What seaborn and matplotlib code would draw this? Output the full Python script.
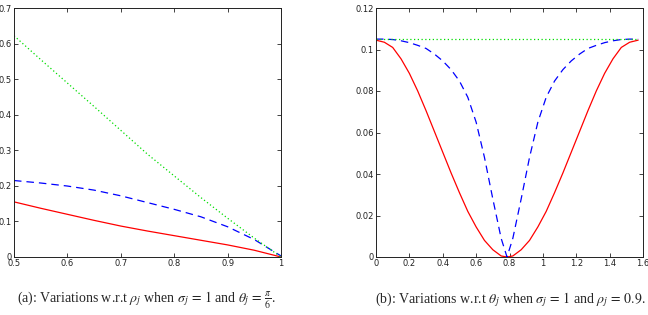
import numpy as np
import pandas as pd
import matplotlib
matplotlib.use("Agg")
import matplotlib.pyplot as plt
import seaborn as sns

# Panel (a): variations w.r.t rho
rho = [0.5, 0.55, 0.6, 0.65, 0.7, 0.75, 0.8, 0.85, 0.9, 0.95, 1.0]
a_red = [0.155, 0.137, 0.120, 0.103, 0.087, 0.073, 0.060, 0.047, 0.034, 0.019, 0.0]
a_blue = [0.215, 0.208, 0.1995, 0.188, 0.172, 0.153, 0.134, 0.113, 0.085, 0.049, 0.003]
a_green = [0.622, 0.555, 0.489, 0.423, 0.356, 0.289, 0.228, 0.167, 0.109, 0.053, 0.0]

# Panel (b): variations w.r.t theta
theta = [0.0, 0.05, 0.1, 0.15, 0.2, 0.25, 0.3, 0.35, 0.4, 0.45, 0.5, 0.55, 0.6, 0.65,
         0.7, 0.75, 0.785, 0.82, 0.87, 0.92, 0.97, 1.02, 1.07, 1.12, 1.17, 1.22,
         1.27, 1.32, 1.37, 1.42, 1.47, 1.52, 1.571]
b_red = [0.1045, 0.1035, 0.101, 0.0955, 0.0885, 0.080, 0.0705, 0.0605, 0.0505, 0.0405,
         0.031, 0.022, 0.0145, 0.008, 0.0035, 0.0005, 0.0, 0.0005, 0.0035, 0.008,
         0.0145, 0.022, 0.031, 0.0405, 0.0505, 0.0605, 0.0705, 0.080, 0.0885, 0.0955,
         0.101, 0.1035, 0.1045]
b_blue = [0.105, 0.105, 0.1048, 0.1042, 0.1033, 0.102, 0.1005, 0.0978, 0.0945, 0.0903,
          0.0848, 0.077, 0.065, 0.048, 0.028, 0.009, 0.0, 0.009, 0.028, 0.048,
          0.065, 0.077, 0.0848, 0.0903, 0.0945, 0.0978, 0.1005, 0.102, 0.1033, 0.1042,
          0.1048, 0.105, 0.105]
b_green = [0.105] * len(theta)

plt.rcParams['mathtext.fontset'] = 'stix'
sns.set_style("white")
plt.rcParams['font.family'] = ['DejaVu Sans']

fig = plt.figure(figsize=(6.48, 3.15), dpi=100)
W, H = 648, 315
ax1 = fig.add_axes([14 / W, (H - 257) / H, 267 / W, 249 / H])
ax2 = fig.add_axes([376 / W, (H - 257) / H, 267 / W, 249 / H])

lw = 0.9
df_a = pd.DataFrame({"x": rho, "red": a_red, "blue": a_blue, "green": a_green})
sns.lineplot(data=df_a, x="x", y="red", ax=ax1, color="#ff0000", lw=lw)
sns.lineplot(data=df_a, x="x", y="blue", ax=ax1, color="#0000ff", lw=lw, linestyle=(0, (6, 4)))
sns.lineplot(data=df_a, x="x", y="green", ax=ax1, color="#00dd00", lw=lw, linestyle=(0, (1, 2)))
ax1.set_xlim(0.5, 1.0)
ax1.set_ylim(0, 0.7)
ax1.set_xticks([0.5, 0.6, 0.7, 0.8, 0.9, 1.0])
ax1.set_xticklabels(["0.5", "0.6", "0.7", "0.8", "0.9", "1"])
ax1.set_yticks([0, 0.1, 0.2, 0.3, 0.4, 0.5, 0.6, 0.7])
ax1.set_yticklabels(["0", "0.1", "0.2", "0.3", "0.4", "0.5", "0.6", "0.7"])

df_b = pd.DataFrame({"x": theta, "red": b_red, "blue": b_blue, "green": b_green})
sns.lineplot(data=df_b, x="x", y="red", ax=ax2, color="#ff0000", lw=lw)
sns.lineplot(data=df_b, x="x", y="blue", ax=ax2, color="#0000ff", lw=lw, linestyle=(0, (6, 4)))
sns.lineplot(data=df_b, x="x", y="green", ax=ax2, color="#00dd00", lw=lw, linestyle=(0, (1, 2)))
ax2.set_xlim(0, 1.6)
ax2.set_ylim(0, 0.12)
ax2.set_xticks([0, 0.2, 0.4, 0.6, 0.8, 1.0, 1.2, 1.4, 1.6])
ax2.set_xticklabels(["0", "0.2", "0.4", "0.6", "0.8", "1", "1.2", "1.4", "1.6"])
ax2.set_yticks([0, 0.02, 0.04, 0.06, 0.08, 0.1, 0.12])
ax2.set_yticklabels(["0", "0.02", "0.04", "0.06", "0.08", "0.1", "0.12"])

for ax in (ax1, ax2):
    ax.set_xlabel("")
    ax.set_ylabel("")
    ax.tick_params(direction="in", length=3, width=0.6, labelsize=6, pad=1.5,
                   top=True, right=True, bottom=True, left=True, colors="#222222")
    for s in ax.spines.values():
        s.set_linewidth(0.7)
        s.set_color("#222222")

fig.text(147 / W, 1 - 300 / H,
         r"(a): Variations w.r.t $\rho_j$ when $\sigma_j\,=\,1$ and $\theta_j\,=\,\frac{\pi}{6}$.",
         ha="center", va="center", fontsize=10, family="Liberation Serif")
fig.text(510 / W, 1 - 300 / H,
         r"(b): Variations w.r.t $\theta_j$ when $\sigma_j\,=\,1$ and $\rho_j\,=\,0.9$.",
         ha="center", va="center", fontsize=10, family="Liberation Serif")

fig.savefig("out.png", dpi=100)
